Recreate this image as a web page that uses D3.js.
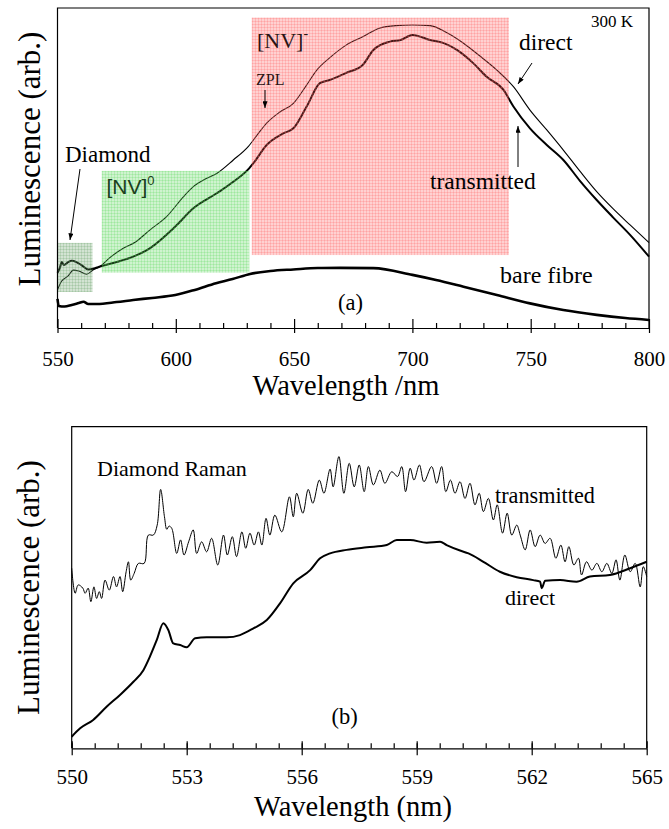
<!DOCTYPE html>
<html>
<head>
<meta charset="utf-8">
<script src="https://cdn.jsdelivr.net/npm/d3@7"></script>
<style>
  body { margin: 0; background: #fff; }
  .axis path, .axis line { stroke: #000; stroke-width: 1.2; }
</style>
</head>
<body>
<svg id="chart" width="669" height="829" font-family="Liberation Serif, Times New Roman, serif"></svg>
<script>
// ---------------------------------------------------------------------------
// Data. Wavelength in nm, luminescence in arb. units.

// Panel (a): full spectra, 550-800 nm
const ticksA = [550, 600, 650, 700, 750, 800];

const directA = [
  [550, 11.9], [551.8, 14.7], [552.7, 15.3], [554.5, 16.3], [556.7, 18.1], [559, 17.8],
  [562.3, 16.8], [565, 18.1], [568, 19.2], [572, 21.9], [577.8, 24.9], [583, 26.9],
  [589, 30.6], [596.1, 34.8], [603.2, 41.0], [607.4, 44.2], [613.1, 46.8], [617.3, 48.3],
  [624.3, 52.5], [630.6, 56.7], [635, 60.9], [638.4, 64.0], [644, 67.5], [649.7, 70.2],
  [655, 75.6], [659.6, 80.6], [665, 84.4], [672, 88.4], [679, 91.0], [686, 93.7],
  [693, 94.5], [700, 94.7], [707.5, 94.5], [714, 92.5], [721.6, 89.0], [728, 85.3],
  [735.7, 80.6], [742.7, 75.4], [749.7, 68.1], [756.8, 61.9], [763.8, 55.6], [770.8, 49.0],
  [777.9, 42.6], [784.9, 37.2], [792, 32.2], [800, 26.7],
];

const transmittedA = [
  [550, 17.3], [551, 18.8], [551.8, 20.6], [552.7, 19.7], [554.5, 20.6], [556, 21.0],
  [558, 20.6], [560, 19.7], [563, 18.3], [565.8, 18.7], [568, 19.2], [575, 20.6],
  [582, 22.3], [589, 24.9], [599.8, 31.7], [607.4, 37.4], [617.3, 42.1], [624.3, 45.7],
  [631, 49.9], [632.8, 51.5], [638.4, 57.2], [645.4, 60.8], [649.7, 62.4], [655.3, 69.2],
  [660.9, 76.5], [665, 77.5], [672, 79.7], [679, 82.2], [683.5, 86.9], [690.5, 89.5],
  [695, 90.0], [700, 91.6], [707.5, 90.0], [713, 89.1], [718.8, 86.9], [725.8, 82.7],
  [731.4, 78.5], [738.5, 74.4], [742.7, 69.2], [749.7, 62.4], [756.8, 57.2], [763.8, 52.5],
  [770.8, 46.0], [777.9, 40.0], [784.9, 34.5], [792, 29.1], [800, 22.3],
];

const bareFibreA = [
  [550, 9.1], [550.5, 6.9], [553, 6.7], [556, 7.2], [559, 7.8], [561, 8.2], [563, 7.5],
  [566.6, 7.5], [575, 8.1], [582, 8.75], [590, 9.4], [599.8, 10.3], [608, 11.9],
  [617, 14.0], [624, 15.3], [631.4, 16.9], [640, 17.8], [649.7, 18.3], [660, 18.75],
  [669.4, 18.8], [683.5, 18.7], [700, 16.6], [710, 15.0], [721.6, 12.9], [735.7, 10.3],
  [749.7, 7.7], [763.8, 5.6], [777.9, 4.1], [790, 3.1], [800, 2.5],
];

// Shaded bands: [nm from, nm to, lum from, lum to]
const diamondBand = [550, 564.8, 11.25, 26.6];
const nv0Band = [568.7, 631.1, 17.3, 49.1];
const nvMinusBand = [632.1, 740.8, 22.8, 97];

// Panel (b): zoom on the diamond Raman line, 550-565 nm
const ticksB = [550, 553, 556, 559, 562, 565];

const transmittedB = [
  [550.0, 56.0], [550.09, 48.2], [550.17, 50.8], [550.29, 49.8], [550.35, 48.2], [550.43, 49.8],
  [550.5, 45.6], [550.58, 50.2], [550.65, 46.6], [550.72, 48.7], [550.78, 46.6], [550.87, 52.3],
  [550.98, 49.2], [551.09, 53.4], [551.17, 50.2], [551.26, 53.4], [551.33, 48.7], [551.42, 54.9],
  [551.48, 58.0], [551.54, 52.3], [551.63, 54.4], [551.74, 57.5], [551.89, 57.5], [552.0, 66.3],
  [552.13, 66.3], [552.23, 69.4], [552.32, 80.5], [552.42, 72.0], [552.48, 68.1], [552.54, 69.1],
  [552.61, 68.4], [552.74, 60.6], [552.84, 64.8], [552.93, 60.1], [553.05, 64.2], [553.17, 67.9],
  [553.26, 60.6], [553.39, 64.2], [553.52, 61.1], [553.65, 65.3], [553.81, 57.0], [553.96, 66.3],
  [554.06, 60.1], [554.19, 65.8], [554.3, 59.6], [554.44, 67.3], [554.54, 62.2], [554.65, 66.9],
  [554.76, 63.2], [554.87, 67.3], [554.96, 63.2], [555.07, 71.5], [555.17, 66.3], [555.3, 72.5],
  [555.48, 67.3], [555.68, 78.2], [555.78, 72.0], [555.87, 79.3], [556.03, 73.1], [556.17, 80.5],
  [556.29, 76.2], [556.46, 83.4], [556.58, 79.3], [556.74, 86.8], [556.82, 81.3], [556.97, 90.7],
  [557.1, 79.3], [557.24, 88.6], [557.37, 81.3], [557.5, 88.1], [557.63, 79.8], [557.74, 87.6],
  [557.87, 81.9], [558.04, 86.5], [558.17, 82.4], [558.35, 86.0], [558.5, 84.5], [558.61, 87.6],
  [558.71, 79.8], [558.83, 87.1], [558.93, 83.4], [559.07, 88.1], [559.19, 82.9], [559.39, 87.6],
  [559.52, 82.4], [559.65, 87.6], [559.76, 79.8], [559.88, 83.4], [560.0, 79.3], [560.13, 82.9],
  [560.26, 77.7], [560.39, 82.4], [560.52, 75.7], [560.63, 79.3], [560.74, 73.6], [560.87, 77.7],
  [561.0, 71.0], [561.1, 75.7], [561.24, 66.9], [561.36, 73.1], [561.48, 66.3], [561.61, 69.4],
  [561.7, 66.3], [561.83, 61.7], [561.96, 67.9], [562.09, 62.7], [562.22, 66.3], [562.35, 63.7],
  [562.48, 65.3], [562.63, 59.1], [562.76, 63.2], [562.87, 58.0], [562.97, 62.7], [563.1, 57.0],
  [563.22, 59.1], [563.3, 53.9], [563.43, 58.0], [563.57, 55.4], [563.7, 57.5], [563.83, 54.9],
  [563.96, 57.5], [564.09, 54.4], [564.2, 58.6], [564.3, 52.3], [564.43, 60.1], [564.57, 54.9],
  [564.7, 57.5], [564.83, 50.2], [564.91, 56.5], [565.0, 53.4],
];

const directB = [
  [550.0, 3.6], [550.22, 6.2], [550.56, 8.8], [550.91, 12.9], [551.26, 16.6], [551.61, 20.7],
  [551.87, 24.3], [552.04, 28.5], [552.22, 33.7], [552.39, 38.9], [552.52, 36.8], [552.65, 32.6],
  [552.83, 32.1], [553.0, 31.4], [553.22, 34.2], [553.52, 34.5], [554.04, 34.5], [554.39, 35.2],
  [554.74, 37.3], [555.09, 39.9], [555.43, 45.0], [555.78, 51.3], [556.22, 55.4], [556.48, 59.1],
  [556.74, 60.6], [557.17, 61.7], [557.7, 62.5], [558.22, 63.2], [558.48, 64.8], [558.83, 64.8],
  [559.26, 63.9], [559.61, 64.2], [559.78, 63.2], [560.13, 61.5], [560.35, 60.6], [560.74, 58.0],
  [561.17, 54.9], [561.61, 53.2], [562.04, 52.3], [562.22, 51.8], [562.26, 49.8], [562.35, 52.1],
  [562.74, 52.3], [563.17, 51.8], [563.52, 53.4], [564.04, 53.9], [564.57, 56.0], [565.0, 58.0],
];

// ---------------------------------------------------------------------------
// Setup

const serif = 'Liberation Serif, Times New Roman, serif';
const sans = 'Liberation Sans, Arial, sans-serif';

const svg = d3.select('#chart');
const defs = svg.append('defs');

// arrow head for the annotation arrows
defs.append('marker')
  .attr('id', 'arrow')
  .attr('viewBox', '0 0 8 6')
  .attr('refX', 8)
  .attr('refY', 3)
  .attr('markerUnits', 'userSpaceOnUse')
  .attr('markerWidth', 7)
  .attr('markerHeight', 5)
  .attr('orient', 'auto')
  .append('path')
  .attr('d', 'M0,0L8,3L0,6Z')
  .attr('fill', '#000');

// mesh-like fill used by the coloured bands
const addMesh = (id, color) => {
  const p = defs.append('pattern')
    .attr('id', id)
    .attr('patternUnits', 'userSpaceOnUse')
    .attr('width', 3)
    .attr('height', 3);
  p.append('rect').attr('width', 3).attr('height', 3)
    .attr('fill', color).attr('fill-opacity', 0.28);
  p.append('path').attr('d', 'M0,0.5H3M0.5,0V3')
    .attr('stroke', color).attr('stroke-opacity', 0.22).attr('stroke-width', 1);
};
addMesh('mesh-diamond', '#5f9a5f');
addMesh('mesh-green', '#52d452');
addMesh('mesh-red', '#ff5a5a');

const text = (g, x, y, str, size, opts = {}) => g.append('text')
  .attr('x', x)
  .attr('y', y)
  .attr('font-size', size)
  .attr('font-family', opts.family || serif)
  .attr('text-anchor', opts.anchor || 'start')
  .attr('fill', opts.fill || '#000')
  .text(str);

const arrow = (g, x1, y1, x2, y2) => g.append('line')
  .attr('x1', x1).attr('y1', y1).attr('x2', x2).attr('y2', y2)
  .attr('stroke', '#000').attr('stroke-width', 1)
  .attr('marker-end', 'url(#arrow)');

// Draws the frame, ticks and axis titles of one panel
const drawFrame = (g, x, box, cfg) => {
  const { left, right, top, bottom } = box;

  // minor ticks (inside)
  g.append('g')
    .attr('class', 'axis')
    .attr('transform', `translate(0,${bottom})`)
    .call(d3.axisBottom(x).tickValues(cfg.minor).tickSize(-5).tickFormat(''))
    .call((a) => a.select('.domain').remove());

  // major ticks (inside part)
  g.append('g')
    .attr('class', 'axis')
    .attr('transform', `translate(0,${bottom})`)
    .call(d3.axisBottom(x).tickValues(cfg.major).tickSize(-cfg.majorIn).tickFormat(''))
    .call((a) => a.select('.domain').remove());

  // major ticks (outside part) with labels
  g.append('g')
    .attr('class', 'axis')
    .attr('transform', `translate(0,${bottom})`)
    .call(d3.axisBottom(x).tickValues(cfg.major).tickSizeInner(cfg.majorOut).tickSizeOuter(0)
      .tickPadding(cfg.labelPad).tickFormat(d3.format('d')))
    .attr('font-family', serif)
    .attr('font-size', cfg.tickFont)
    .call((a) => a.selectAll('text')
      .attr('font-family', serif)
      .attr('font-size', cfg.tickFont)
      .attr('dy', null));

  // frame: top, right, left
  g.append('path')
    .attr('d', `M${left},${bottom}V${top}H${right}V${bottom}`)
    .attr('fill', 'none')
    .attr('stroke', '#000')
    .attr('stroke-width', 1.2);

  // axis titles
  text(g, cfg.titleX, cfg.titleY, cfg.title, cfg.titleFont, { anchor: 'middle' });
  g.append('text')
    .attr('transform', `translate(${cfg.yLabelX},${(top + bottom) / 2 + cfg.yLabelShift}) rotate(-90)`)
    .attr('text-anchor', 'middle')
    .attr('font-family', serif)
    .attr('font-size', cfg.yLabelFont)
    .text('Luminescence (arb.)');
};

const band = (g, x, y, b, fillId) => g.append('rect')
  .attr('x', x(b[0]))
  .attr('y', y(b[3]))
  .attr('width', x(b[1]) - x(b[0]))
  .attr('height', y(b[2]) - y(b[3]))
  .attr('fill', `url(#${fillId})`);

// ---------------------------------------------------------------------------
// Panel (a)

const boxA = { left: 57.5, right: 649, top: 8, bottom: 328 };
const xA = d3.scaleLinear().domain([550, 800]).range([boxA.left, boxA.right]);
const yA = d3.scaleLinear().domain([0, 100]).range([boxA.bottom, boxA.top]);
const gA = svg.append('g');

const lineA = d3.line().x((d) => xA(d[0])).y((d) => yA(d[1])).curve(d3.curveMonotoneX);

gA.append('path').datum(bareFibreA).attr('d', lineA)
  .attr('fill', 'none').attr('stroke', '#000').attr('stroke-width', 2.6);
gA.append('path').datum(transmittedA).attr('d', lineA)
  .attr('fill', 'none').attr('stroke', '#000').attr('stroke-width', 2);
gA.append('path').datum(directA).attr('d', lineA)
  .attr('fill', 'none').attr('stroke', '#000').attr('stroke-width', 1.1);

band(gA, xA, yA, diamondBand, 'mesh-diamond');
band(gA, xA, yA, nv0Band, 'mesh-green');
band(gA, xA, yA, nvMinusBand, 'mesh-red');

const nv0 = gA.append('text')
  .attr('x', 106.5).attr('y', 193.5)
  .attr('font-family', sans)
  .attr('font-size', 21)
  .attr('fill', '#1b401b');
nv0.append('tspan').text('[NV]');
nv0.append('tspan').attr('font-size', 13).attr('dy', -9).text('0');

const nvm = gA.append('text')
  .attr('x', 257).attr('y', 47.5)
  .attr('font-family', serif)
  .attr('font-size', 22)
  .attr('fill', '#2a1414');
nvm.append('tspan').text('[NV]');
nvm.append('tspan').attr('font-size', 14).attr('dy', -10).text('-');

text(gA, 256, 85, 'ZPL', 16, { fill: '#2a1414' });
arrow(gA, 265, 90, 265, 108);

text(gA, 65, 162, 'Diamond', 23);
arrow(gA, 80, 169, 70, 240);

text(gA, 591, 27, '300 K', 17);
text(gA, 519, 50, 'direct', 23.5);
arrow(gA, 532, 63, 518, 84);
text(gA, 430, 189, 'transmitted', 23.5);
arrow(gA, 518, 167, 518, 126);
text(gA, 500, 283, 'bare fibre', 24);
text(gA, 338, 309.5, '(a)', 22.5);

drawFrame(gA, xA, boxA, {
  major: ticksA,
  minor: d3.range(560, 800, 10).filter((v) => v % 50 !== 0),
  majorIn: 9,
  majorOut: 5,
  labelPad: 33,
  tickFont: 21,
  title: 'Wavelength /nm',
  titleX: 346,
  titleY: 395,
  titleFont: 28.5,
  yLabelX: 40,
  yLabelShift: -9,
  yLabelFont: 31,
});

// ---------------------------------------------------------------------------
// Panel (b)

const boxB = { left: 71.7, right: 646.7, top: 426.7, bottom: 748.3 };
const xB = d3.scaleLinear().domain([550, 565]).range([boxB.left, boxB.right]);
const yB = d3.scaleLinear().domain([0, 100]).range([boxB.bottom, boxB.top]);
const gB = svg.append('g');

gB.append('path').datum(transmittedB)
  .attr('d', d3.line().x((d) => xB(d[0])).y((d) => yB(d[1])).curve(d3.curveCatmullRom.alpha(0.5)))
  .attr('fill', 'none').attr('stroke', '#000').attr('stroke-width', 1);
gB.append('path').datum(directB)
  .attr('d', d3.line().x((d) => xB(d[0])).y((d) => yB(d[1])).curve(d3.curveMonotoneX))
  .attr('fill', 'none').attr('stroke', '#000').attr('stroke-width', 2);

text(gB, 97, 476, 'Diamond Raman', 22);
text(gB, 495, 503, 'transmitted', 22.2);
text(gB, 505, 605, 'direct', 22);
text(gB, 331.5, 723.5, '(b)', 22.5);

drawFrame(gB, xB, boxB, {
  major: ticksB,
  minor: d3.range(0, 25).map((i) => 550 + i * 0.6).filter((v) => Math.abs(v - Math.round(v / 3) * 3) > 0.01),
  majorIn: 7,
  majorOut: 7,
  labelPad: 29,
  tickFont: 21,
  title: 'Wavelength (nm)',
  titleX: 353,
  titleY: 816,
  titleFont: 28.5,
  yLabelX: 39,
  yLabelShift: 0,
  yLabelFont: 31,
});
</script>
</body>
</html>
